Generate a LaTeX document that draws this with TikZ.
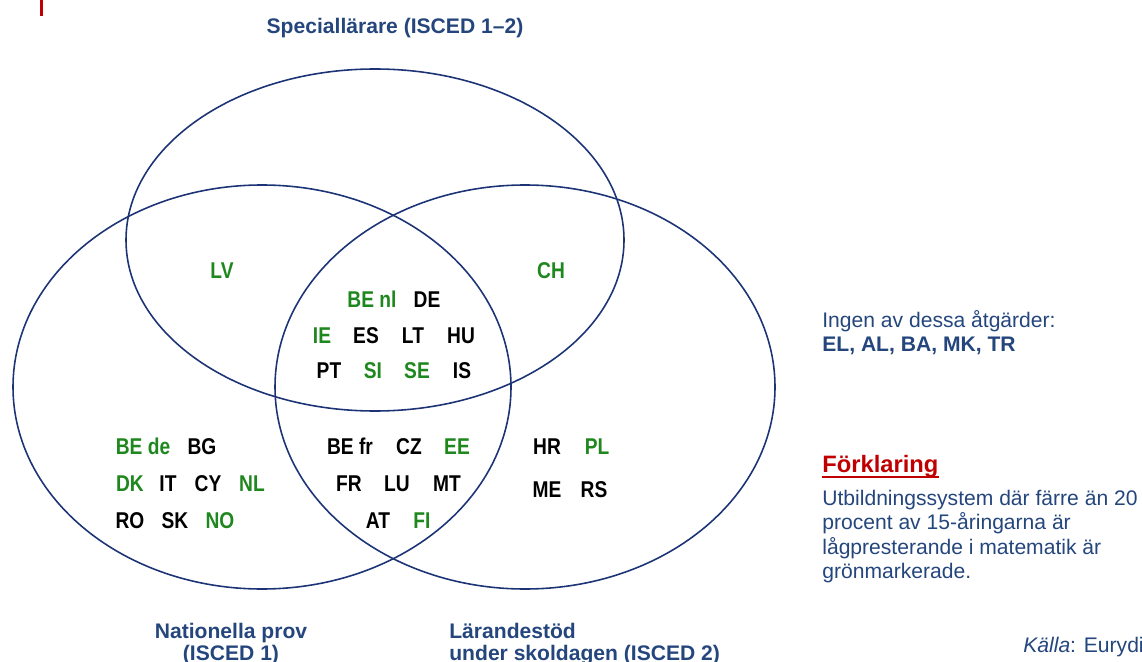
\documentclass[tikz,border=0pt]{standalone}
\usepackage{fontspec}
\setmainfont{Liberation Sans}
\newfontfamily\codefont{Liberation Sans}[FakeStretch=0.84]

\definecolor{ringblue}{RGB}{28,52,118}
\definecolor{headblue}{RGB}{36,70,125}
\definecolor{okgreen}{RGB}{30,135,30}
\definecolor{markred}{RGB}{192,0,0}

\tikzset{
  set/.style={draw=ringblue, line width=0.9pt},
  code/.style={font=\codefont\bfseries\fontsize{13}{15}\selectfont, anchor=base, inner sep=0pt},
  good/.style={code, text=okgreen},
  heading/.style={font=\bfseries\fontsize{12}{14}\selectfont, text=headblue, inner sep=0pt},
  legend/.style={font=\fontsize{12}{14}\selectfont, text=headblue, anchor=base west, inner sep=0pt}
}

\begin{document}
\begin{tikzpicture}[x=0.02cm,y=-0.02cm]
    \useasboundingbox (0,0) rectangle (1142,662);
    \fill[markred] (40,0) rectangle (43,16);

    % the three sets
    \draw[set] (375,240) ellipse [x radius=249, y radius=171];
    \draw[set] (262,387) ellipse [x radius=249, y radius=202];
    \draw[set] (525,387) ellipse [x radius=250, y radius=202];

    \node[heading, anchor=base] (special) at (395,34) {Speciallärare (ISCED 1–2)};
    \node[heading, anchor=base] (natprov) at (231,638) {Nationella prov};
    \node[heading, anchor=base] (natisced) at (231,660) {(ISCED 1)};
    \node[heading, anchor=base west] (larande) at (449,638) {Lärandestöd};
    \node[heading, anchor=base west] (larisced) at (449,660) {under skoldagen (ISCED 2)};

    % special + national tests / special + learning support
    \node[good] (lv) at (222,278) {LV};
    \node[good] (ch) at (551,278) {CH};

    % all three
    \node[good] (benl) at (372,307) {BE nl};
    \node[code] (de) at (427,307) {DE};
    \node[good] (ie) at (322,343) {IE};
    \node[code] (es) at (366,343) {ES};
    \node[code] (lt) at (413,343) {LT};
    \node[code] (hu) at (461,343) {HU};
    \node[code] (pt) at (329,378) {PT};
    \node[good] (si) at (373,378) {SI};
    \node[good] (se) at (417,378) {SE};
    \node[code] (is) at (462,378) {IS};

    % national tests only
    \node[good] (bede) at (143,454) {BE de};
    \node[code] (bg) at (202,454) {BG};
    \node[good] (dk) at (130,491) {DK};
    \node[code] (it) at (168,491) {IT};
    \node[code] (cy) at (208,491) {CY};
    \node[good] (nl) at (252,491) {NL};
    \node[code] (ro) at (130,528) {RO};
    \node[code] (sk) at (175,528) {SK};
    \node[good] (no) at (220,528) {NO};

    % national tests + learning support
    \node[code] (befr) at (350,454) {BE fr};
    \node[code] (cz) at (409,454) {CZ};
    \node[good] (ee) at (457,454) {EE};
    \node[code] (fr) at (349,491) {FR};
    \node[code] (lu) at (397,491) {LU};
    \node[code] (mt) at (447,491) {MT};
    \node[code] (at) at (378,528) {AT};
    \node[good] (fi) at (422,528) {FI};

    % learning support only
    \node[code] (hr) at (547,454) {HR};
    \node[good] (pl) at (597,454) {PL};
    \node[code] (me) at (547,497) {ME};
    \node[code] (rs) at (594,497) {RS};

    % legend
    \node[legend] (ingen) at (822,327) {Ingen av dessa åtgärder:};
    \node[legend, font=\bfseries\fontsize{12}{14}\selectfont] (ingenlist) at (822,351) {EL, AL, BA, MK, TR};
    \node[legend, text=markred, font=\bfseries\fontsize{13.5}{16}\selectfont] (forkl) at (822,472) {Förklaring};
    \draw[markred, line width=1.3pt] ([yshift=-3pt]forkl.base west) -- ([yshift=-3pt]forkl.base east);
    \node[legend] (expl1) at (822,505) {Utbildningssystem där färre än 20};
    \node[legend] (expl2) at (822,529.5) {procent av 15-åringarna är};
    \node[legend] (expl3) at (822,554) {lågpresterande i matematik är};
    \node[legend] (expl4) at (822,578.5) {grönmarkerade.};
    \node[legend] (kalla) at (1023,652) {\textit{Källa}: Eurydi};
\end{tikzpicture}
\end{document}
